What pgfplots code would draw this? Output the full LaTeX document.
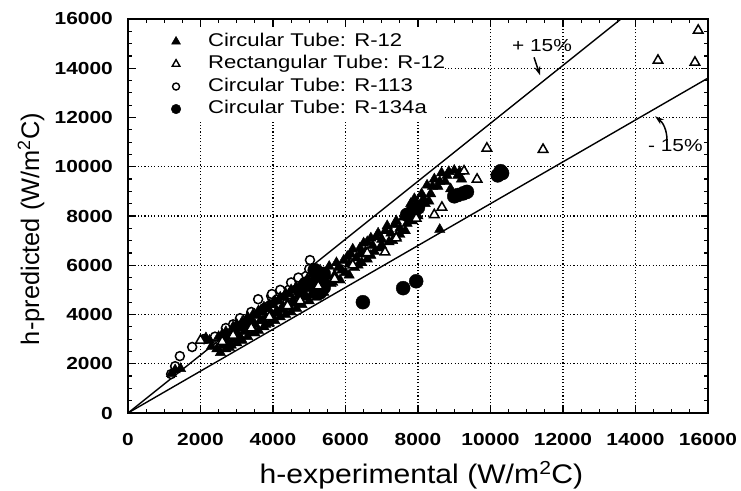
\documentclass[border=0pt]{standalone}
\usepackage{fontspec}
\setmainfont{Liberation Sans}
\newfontfamily\widefont{Liberation Sans}[FakeStretch=1.2]
\newfontfamily\xlabfont{Liberation Sans}[FakeStretch=1.12]
\usepackage{pgfplots}
\pgfplotsset{compat=1.18}
\usetikzlibrary{arrows.meta}
\begin{document}
\begin{tikzpicture}
\begin{axis}[
  scale only axis, width=580bp, height=394bp,
  xmin=0, xmax=16000, ymin=0, ymax=16000,
  xtick={0,2000,...,16000}, ytick={0,2000,...,16000},
  minor tick num=3,
  scaled ticks=false,
  /pgf/number format/set thousands separator={},
  /pgf/number format/assume math mode=true,
  tick label style={font=\widefont\bfseries\fontsize{17.5}{17.5}\selectfont, inner sep=0pt},
  xticklabel style={yshift=-20bp},
  yticklabel style={xshift=-15bp},
  major tick length=7bp, minor tick length=4bp,
  tick style={black, line width=1.2bp},
  axis line style={line width=1.5bp},
  grid=major,
  major grid style={black, line width=1.1bp, dash pattern=on 1.1bp off 2.2bp},
  xlabel={\xlabfont\fontsize{27}{27}\selectfont h-experimental (W/m\textsuperscript{2}C)},
  ylabel={\fontsize{25.5}{25.5}\selectfont h-predicted (W/m\textsuperscript{2}C)},
  every axis x label/.style={at={(axis description cs:0.506,-0.178)}, anchor=base},
  every axis y label/.style={at={(axis description cs:-0.167,0.467)}, anchor=center, rotate=90},
  legend style={at={(rel axis cs:0.017,0.975)}, anchor=north west, draw=none, fill=white,
    inner xsep=0pt, inner ysep=4bp, row sep=5.5bp,
    font=\widefont\fontsize{18.5}{18.5}\selectfont,
    nodes={inner sep=0pt, text height=13bp, text depth=4bp}},
  legend cell align=left,
]
\addlegendimage{legend image code/.code={\path[draw=none, fill=none] (0,0) -- (70bp,0);
  \path[draw=black, fill=black, line width=0.6bp] plot[only marks, mark=triangle*, mark size=5bp] coordinates {(38bp,0)};}}
\addlegendimage{legend image code/.code={\path[draw=none, fill=none] (0,0) -- (70bp,0);
  \path[draw=black, fill=white, line width=1.4bp] plot[only marks, mark=triangle*, mark size=4.4bp] coordinates {(38bp,0)};}}
\addlegendimage{legend image code/.code={\path[draw=none, fill=none] (0,0) -- (70bp,0);
  \path[draw=black, fill=white, line width=1.4bp] plot[only marks, mark=*, mark size=3.5bp] coordinates {(38bp,0)};}}
\addlegendimage{legend image code/.code={\path[draw=none, fill=none] (0,0) -- (70bp,0);
  \path[draw=black, fill=black] plot[only marks, mark=*, mark size=4.8bp] coordinates {(38bp,0)};}}
\legend{Circular Tube: R-12, Rectangular Tube: R-12, Circular Tube: R-113, Circular Tube: R-134a}

\coordinate (O) at (rel axis cs:0,0);

\addplot[black, line width=1.4bp, forget plot] coordinates {(0,0) (13600,16000)};
\addplot[black, line width=1.4bp, forget plot] coordinates {(0,0) (16000,13600)};

% Circular Tube: R-113 (open circles)
\addplot[only marks, mark=*, mark size=4.5bp, black, fill=white, line width=1.5bp, forget plot] coordinates {
(1190,1580) (1300,1900) (1430,2310) (1770,2680) (2100,3000) (2400,3100) (2700,3450)
(3090,3850) (3250,3650) (3590,4620) (3950,4750) (3970,4830) (3750,4250) (4200,5000)
(4400,4500) (4500,5300) (4700,5500) (5020,6210) (5000,5850) (5200,5600) (4100,4600)
(3400,4100) (2900,3600)
};

% Circular Tube: R-12 (filled triangles)
\addplot[only marks, mark=triangle*, mark size=6bp, black, forget plot] coordinates {
(1200,1600) (1300,1750) (1450,1800) (2050,2950) (2250,2950) (2150,3050)
(2550,2450) (2600,2750) (2650,3000) (2700,2600) (2750,2850) (2800,3150) (2850,2750)
(2900,3000) (2950,3350) (3000,2850) (3050,3150) (3100,3450) (3150,2950) (3200,3300)
(3250,3650) (3300,3100) (3350,3450) (3400,3800) (3450,3250) (3500,3600) (3550,3950)
(3600,3350) (3650,3750) (3700,4100) (3750,3500) (3800,3900) (3850,4250) (3900,3650)
(3950,4050) (4000,4400) (4050,3750) (4100,4150) (4150,4550) (4200,3900) (4250,4300)
(4300,4700) (4350,4000) (4400,4450) (4450,4850) (4500,4100) (4550,4600) (4600,5000)
(4650,4250) (4700,4750) (4750,5150) (4800,4400) (4850,4900) (4900,5300) (5000,4550)
(5050,5050) (5100,5450) (5200,4700) (5250,5200) (5300,5600) (5400,4900) (5450,5400)
(5600,5250) (5700,5600) (5800,5900) (5850,5400) (5950,6200) (6000,5700) (6100,6050)
(6150,6450) (6250,5900) (6300,6300) (6400,6700) (6450,6100) (6550,6550) (6600,6950)
(6700,6400) (6750,6800) (6850,7150) (6950,6700) (7000,7050) (7100,7400) (7200,6950)
(7250,7300) (7350,7650) (7400,7150) (7500,7500) (7600,7950) (7650,7400) (7750,8250)
(7850,7800) (7900,8700) (8000,8250) (8100,8900) (8200,8500) (8250,9250) (8350,8900)
(8450,9500) (8550,9200) (8650,9750) (8750,9400) (8850,9800) (9000,9850) (9100,9650)
(8600,7450)
(2300,2700) (2450,2600) (2500,3100) (2600,3200) (2700,3300) (2800,2650) (2900,3500)
(3000,3600) (3100,3050) (3150,3700) (3250,3350) (3300,3900) (3400,3550) (3450,4000)
(3500,3250) (3600,4150) (3700,3750) (3750,4300) (3800,3600) (3900,4400) (4000,3800)
(4050,4550) (4150,4050) (4200,4700) (4300,4200) (4350,4850) (4450,4300) (4500,5000)
(4600,4450) (4650,5100) (4750,4600) (4800,5200) (4900,4700) (4950,5450) (5050,4800)
(5100,5650) (5200,5000) (5300,5800) (5350,5100) (5500,5550) (5550,5950) (5650,5300)
(5750,6100) (5900,5800) (6050,6350) (6100,5600) (6200,6650) (6350,6000) (6400,6450)
(6500,6900) (6600,6250) (6700,7100) (6800,6550) (6900,7300) (7000,6800) (7150,7600)
(7300,7000) (7400,7800) (7500,7250) (7700,7700) (7800,8500) (8000,8000) (8150,8700)
(8300,8600) (8400,9200) (8600,9400) (8800,9650) (9150,9800) (9200,9500) (8900,9100)
};

% Circular Tube: R-134a (filled circles)
\addplot[only marks, mark=*, mark size=7bp, black, forget plot] coordinates {
(6480,4500) (7590,5070) (7950,5350) (10320,9740) (10200,9650) (10280,9820)
(9250,8920) (9100,8850) (9350,8980) (9000,8800) (8000,8350) (7850,8150) (7700,8050)
(5400,5650) (5250,5300) (5150,5800) (5400,5100) (4750,4950) (4900,5250) (5300,4900)
};

% Rectangular Tube: R-12 (open triangles)
\addplot[only marks, mark=triangle*, mark size=5.5bp, black, fill=white, line width=1.5bp, forget plot] coordinates {
(15730,15540) (14620,14320) (15640,14240) (11450,10700) (9900,10750) (9270,9820)
(9630,9490) (8660,8350) (8450,8050) (7950,7900) (7400,7100) (7090,6530) (6600,6500)
(6200,6000) (5700,5450) (5250,5150) (4750,4550) (4400,4350) (3900,3900) (3400,3450)
(2900,3150) (2600,2900) (2000,2950)
};

\node[font=\widefont\fontsize{17.5}{17.5}\selectfont] at (axis cs:11422,14930) {+ 15\%};
\draw[-{Stealth[length=9bp,width=6bp]}, line width=1.5bp] (axis cs:11201,14443) -- (axis cs:11367,13713);
\node[font=\widefont\fontsize{17.5}{17.5}\selectfont] at (axis cs:15100,10873) {- 15\%};
\draw[-{Stealth[length=9bp,width=6bp]}, line width=1.5bp] (axis cs:14871,11076) to[bend right=25] (axis cs:14540,12049);
\end{axis}
\pgfresetboundingbox
\path[use as bounding box] ([shift={(-128bp,-78bp)}]O) rectangle ([shift={(613bp,413bp)}]O);
\end{tikzpicture}
\end{document}
